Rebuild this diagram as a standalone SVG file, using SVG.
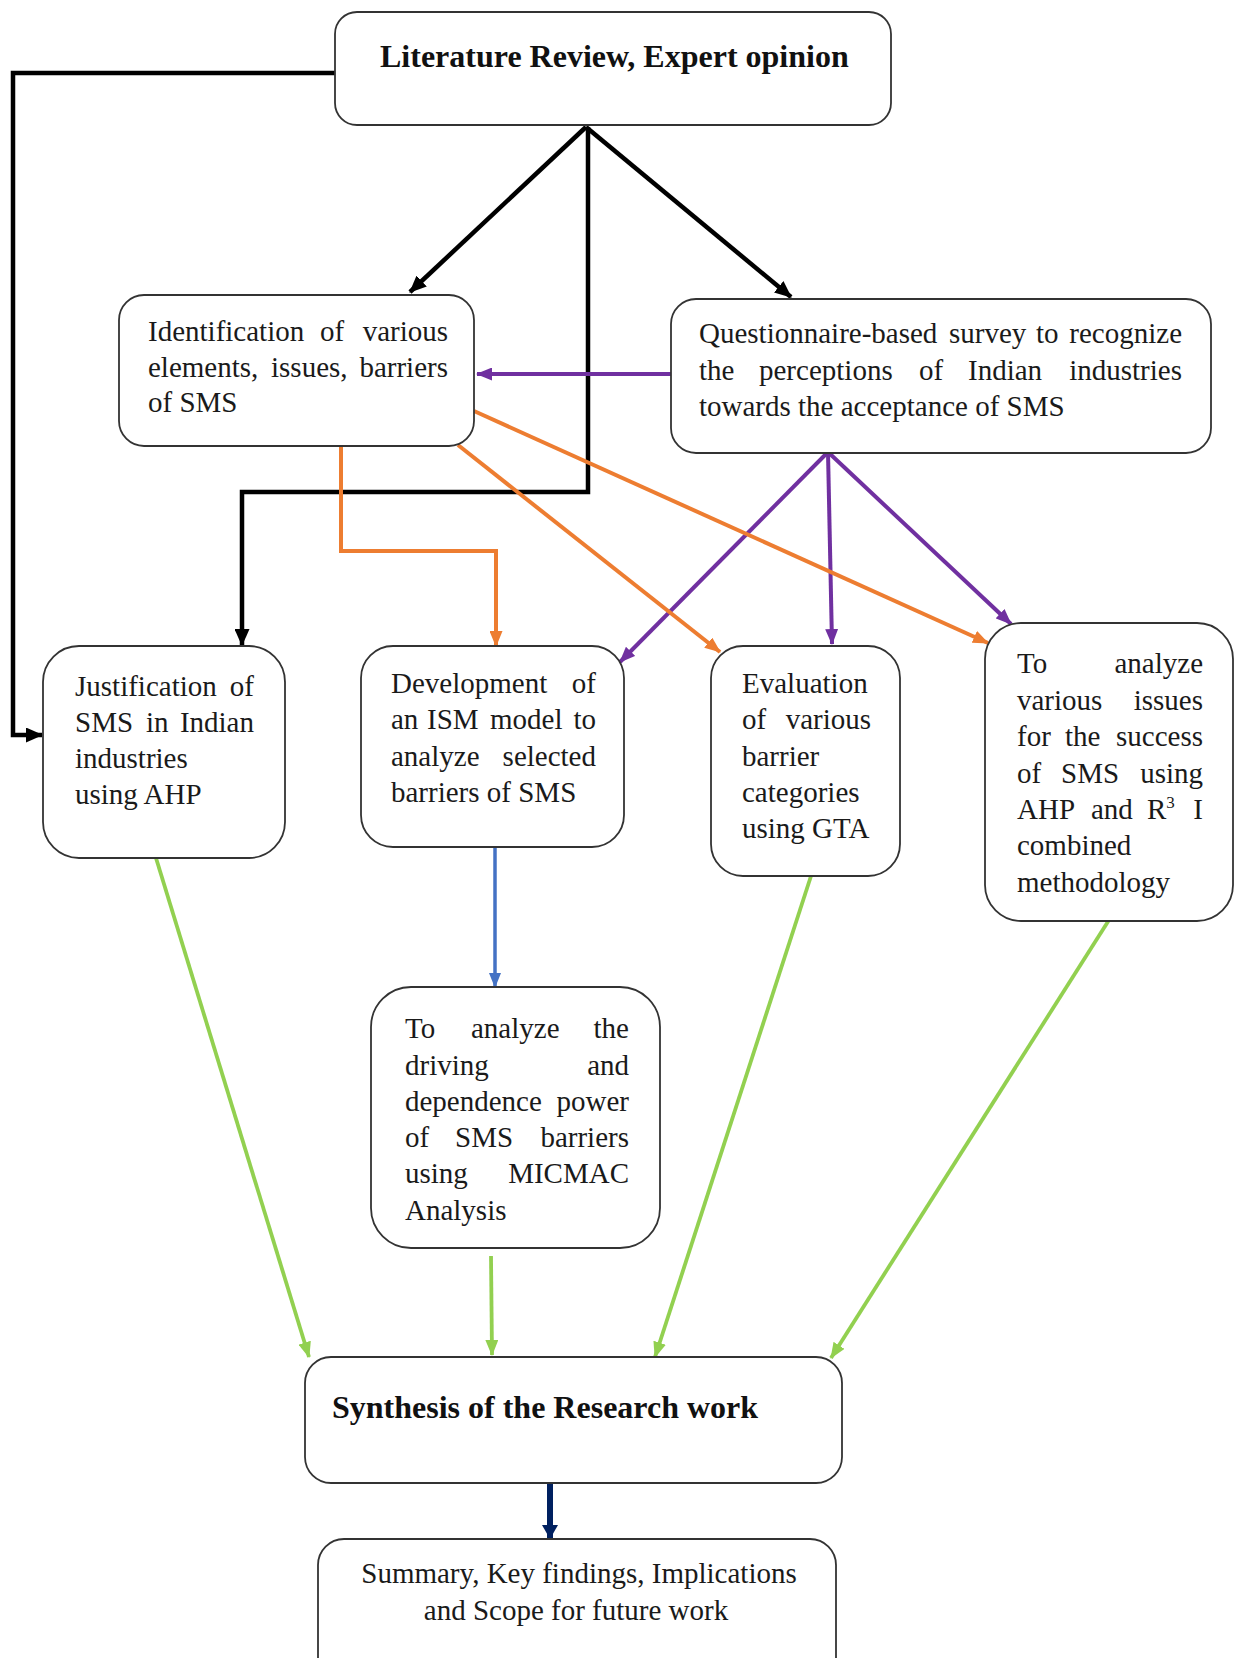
<svg xmlns="http://www.w3.org/2000/svg" width="1235" height="1658" viewBox="0 0 1235 1658">
  <style>
    .box { fill: #ffffff; stroke: #333333; stroke-width: 1.8; }
    .t { font-family: "Liberation Serif", "Times New Roman", serif; font-size: 29px; fill: #1a1a1a; }
    .r { text-anchor: end; }
    .m { text-anchor: middle; }
    .b { font-family: "Liberation Serif", "Times New Roman", serif; font-size: 32px; font-weight: bold; fill: #111111; }
    .sup { font-size: 17px; }
    .k { fill: none; stroke: #000000; stroke-width: 4.5; }
    .p { fill: none; stroke: #7030A0; stroke-width: 4; }
    .o { fill: none; stroke: #ED7D31; stroke-width: 4; }
    .u { fill: none; stroke: #4472C4; stroke-width: 3.5; }
    .g { fill: none; stroke: #92D050; stroke-width: 3.8; }
    .n { fill: none; stroke: #002060; stroke-width: 6; }
  </style>
  <defs>
    <marker id="ah-k" markerUnits="userSpaceOnUse" markerWidth="17" markerHeight="15" refX="16" refY="7.5" orient="auto">
      <path d="M0,0 L17,7.5 L0,15 z" fill="#000000"/>
    </marker>
    <marker id="ah-p" markerUnits="userSpaceOnUse" markerWidth="16" markerHeight="13" refX="15" refY="6.5" orient="auto">
      <path d="M0,0 L16,6.5 L0,13 z" fill="#7030A0"/>
    </marker>
    <marker id="ah-o" markerUnits="userSpaceOnUse" markerWidth="16" markerHeight="13" refX="15" refY="6.5" orient="auto">
      <path d="M0,0 L16,6.5 L0,13 z" fill="#ED7D31"/>
    </marker>
    <marker id="ah-u" markerUnits="userSpaceOnUse" markerWidth="15" markerHeight="12" refX="14" refY="6" orient="auto">
      <path d="M0,0 L15,6 L0,12 z" fill="#4472C4"/>
    </marker>
    <marker id="ah-g" markerUnits="userSpaceOnUse" markerWidth="16" markerHeight="13" refX="15" refY="6.5" orient="auto">
      <path d="M0,0 L16,6.5 L0,13 z" fill="#92D050"/>
    </marker>
    <marker id="ah-n" markerUnits="userSpaceOnUse" markerWidth="14" markerHeight="16" refX="13" refY="8" orient="auto">
      <path d="M0,0 L14,8 L0,16 z" fill="#002060"/>
    </marker>
  </defs>

  <rect width="1235" height="1658" fill="#ffffff"/>

  <!-- connectors -->
  <g id="connectors">
    <path class="k" d="M335,73 H13 V735 H42" marker-end="url(#ah-k)"/>
    <path class="k" d="M586,127 L410,292" marker-end="url(#ah-k)"/>
    <path class="k" d="M586,127 L791,297" marker-end="url(#ah-k)"/>
    <path class="k" d="M588,127 V492 H242 V645" marker-end="url(#ah-k)"/>

    <path class="p" d="M671,374 H477" marker-end="url(#ah-p)"/>
    <path class="p" d="M828,452 L620,662" marker-end="url(#ah-p)"/>
    <path class="p" d="M828,452 L832,644" marker-end="url(#ah-p)"/>
    <path class="p" d="M828,452 L1011,624" marker-end="url(#ah-p)"/>

    <path class="o" d="M341,446 V551 H496 V646" marker-end="url(#ah-o)"/>
    <path class="o" d="M458,445 L720,652" marker-end="url(#ah-o)"/>
    <path class="o" d="M474,411 L988,643" marker-end="url(#ah-o)"/>

    <path class="u" d="M495,847 V987" marker-end="url(#ah-u)"/>

    <path class="g" d="M156,858 L309,1357" marker-end="url(#ah-g)"/>
    <path class="g" d="M491,1256 L492,1355" marker-end="url(#ah-g)"/>
    <path class="g" d="M811,876 L655,1357" marker-end="url(#ah-g)"/>
    <path class="g" d="M1109,920 L831,1358" marker-end="url(#ah-g)"/>

    <path class="n" d="M550,1483 V1538" marker-end="url(#ah-n)"/>
  </g>

  <!-- Literature review -->
  <g id="n-literature">
    <rect class="box" x="335" y="12" width="556" height="113" rx="22"/>
    <text class="b" x="380" y="67">Literature Review, Expert opinion</text>
  </g>

  <!-- Identification -->
  <g id="n-identification">
    <rect class="box" x="119" y="295" width="355" height="151" rx="25"/>
    <text class="t" x="148" y="341">Identification</text>
    <text class="t" x="320" y="341">of</text>
    <text class="t r" x="448" y="341">various</text>
    <text class="t" x="148" y="377">elements,</text>
    <text class="t" x="271" y="377">issues,</text>
    <text class="t r" x="448" y="377">barriers</text>
    <text class="t" x="148" y="412">of SMS</text>
  </g>

  <!-- Questionnaire -->
  <g id="n-questionnaire">
    <rect class="box" x="671" y="299" width="540" height="154" rx="25"/>
    <text class="t" x="699" y="343">Questionnaire-based</text>
    <text class="t" x="949" y="343">survey</text>
    <text class="t" x="1036" y="343">to</text>
    <text class="t r" x="1182" y="343">recognize</text>
    <text class="t" x="699" y="380">the</text>
    <text class="t" x="759" y="380">perceptions</text>
    <text class="t" x="919" y="380">of</text>
    <text class="t" x="968" y="380">Indian</text>
    <text class="t r" x="1182" y="380">industries</text>
    <text class="t" x="699" y="416">towards the acceptance of SMS</text>
  </g>

  <!-- Justification -->
  <g id="n-justification">
    <rect class="box" x="43" y="646" width="242" height="212" rx="36"/>
    <text class="t" x="75" y="696">Justification</text>
    <text class="t r" x="254" y="696">of</text>
    <text class="t" x="75" y="732">SMS</text>
    <text class="t" x="146" y="732">in</text>
    <text class="t r" x="254" y="732">Indian</text>
    <text class="t" x="75" y="768">industries</text>
    <text class="t" x="75" y="804">using AHP</text>
  </g>

  <!-- Development -->
  <g id="n-development">
    <rect class="box" x="361" y="646" width="263" height="201" rx="32"/>
    <text class="t" x="391" y="693">Development</text>
    <text class="t r" x="596" y="693">of</text>
    <text class="t" x="391" y="729">an</text>
    <text class="t" x="427" y="729">ISM</text>
    <text class="t" x="490" y="729">model</text>
    <text class="t r" x="596" y="729">to</text>
    <text class="t" x="391" y="766">analyze</text>
    <text class="t r" x="596" y="766">selected</text>
    <text class="t" x="391" y="802">barriers of SMS</text>
  </g>

  <!-- Evaluation -->
  <g id="n-evaluation">
    <rect class="box" x="711" y="646" width="189" height="230" rx="32"/>
    <text class="t" x="742" y="693">Evaluation</text>
    <text class="t" x="742" y="729">of</text>
    <text class="t r" x="871" y="729">various</text>
    <text class="t" x="742" y="766">barrier</text>
    <text class="t" x="742" y="802">categories</text>
    <text class="t" x="742" y="838">using GTA</text>
  </g>

  <!-- AHP and R3I -->
  <g id="n-ahp-r3i">
    <rect class="box" x="985" y="623" width="248" height="298" rx="36"/>
    <text class="t" x="1017" y="673">To</text>
    <text class="t r" x="1203" y="673">analyze</text>
    <text class="t" x="1017" y="710">various</text>
    <text class="t r" x="1203" y="710">issues</text>
    <text class="t" x="1017" y="746">for</text>
    <text class="t" x="1065" y="746">the</text>
    <text class="t r" x="1203" y="746">success</text>
    <text class="t" x="1017" y="783">of</text>
    <text class="t" x="1061" y="783">SMS</text>
    <text class="t r" x="1203" y="783">using</text>
    <text class="t" x="1017" y="819">AHP</text>
    <text class="t" x="1091" y="819">and</text>
    <text class="t" x="1147" y="819">R<tspan class="sup" dy="-11">3</tspan></text>
    <text class="t r" x="1203" y="819">I</text>
    <text class="t" x="1017" y="855">combined</text>
    <text class="t" x="1017" y="892">methodology</text>
  </g>

  <!-- MICMAC -->
  <g id="n-micmac">
    <rect class="box" x="371" y="987" width="289" height="261" rx="40"/>
    <text class="t" x="405" y="1038">To</text>
    <text class="t" x="471" y="1038">analyze</text>
    <text class="t r" x="629" y="1038">the</text>
    <text class="t" x="405" y="1075">driving</text>
    <text class="t r" x="629" y="1075">and</text>
    <text class="t" x="405" y="1111">dependence</text>
    <text class="t r" x="629" y="1111">power</text>
    <text class="t" x="405" y="1147">of</text>
    <text class="t" x="455" y="1147">SMS</text>
    <text class="t r" x="629" y="1147">barriers</text>
    <text class="t" x="405" y="1183">using</text>
    <text class="t r" x="629" y="1183">MICMAC</text>
    <text class="t" x="405" y="1220">Analysis</text>
  </g>

  <!-- Synthesis -->
  <g id="n-synthesis">
    <rect class="box" x="305" y="1357" width="537" height="126" rx="26"/>
    <text class="b" x="332" y="1418">Synthesis of the Research work</text>
  </g>

  <!-- Summary -->
  <g id="n-summary">
    <rect class="box" x="318" y="1539" width="518" height="150" rx="26"/>
    <text class="t m" x="579" y="1583">Summary, Key findings, Implications</text>
    <text class="t m" x="576" y="1620">and Scope for future work</text>
  </g>
</svg>
